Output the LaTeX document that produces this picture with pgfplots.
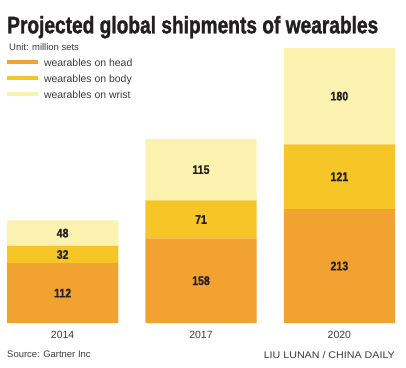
\documentclass[border=0pt]{standalone}
\usepackage{pgfplots}
\pgfplotsset{compat=1.18}
\usepackage{pgfplotstable}
\usepackage{fontspec}
\setmainfont{Liberation Sans}
\newfontface\heavy{Liberation Sans Bold}[FakeBold=1.6]
\newfontface\numb{Liberation Sans Bold}[FakeBold=0.8]
\definecolor{headc}{HTML}{F2A230}
\definecolor{bodyc}{HTML}{F6C627}
\definecolor{wristc}{HTML}{FAF2AE}
\definecolor{txt}{HTML}{231F20}
\definecolor{txt2}{HTML}{3A3A3A}

\pgfplotstableread{
x head body wrist
0 112 32 48
1 158 71 115
2 213 121 180
}\wear

\begin{document}
\begin{tikzpicture}
\path[use as bounding box] (0,0) rectangle (406bp,-368bp);
\begin{axis}[
  at={(7bp,-323bp)}, anchor=south west,
  scale only axis, width=388bp, height=275bp,
  ybar stacked, bar width=0.804,
  xmin=-0.402, xmax=2.402, ymin=0, ymax=514,
  enlargelimits=false,
  axis x line=bottom, axis y line=none,
  axis line style={draw=none,-},
  xtick={0,1,2}, xticklabels={2014,2017,2020},
  ytick=\empty,
  major tick length=0pt,
  /pgf/number format/assume math mode=true,
  xticklabel style={font=\fontsize{10.5}{12}\selectfont, text=txt2, anchor=base, yshift=-15.3bp},
  point meta=explicit,
  nodes near coords={\scalebox{0.85}[1]{\pgfmathprintnumber{\pgfplotspointmeta}}},
  every node near coord/.append style={font=\fontsize{12.5}{13}\numb, text=txt, anchor=center},
  legend style={at={(0,0.9651)}, anchor=north west, draw=none, fill=none, inner sep=0pt, outer sep=0pt, row sep=7bp, column sep=6bp, font=\fontsize{10.5}{12}\selectfont, text=txt2, nodes={inner sep=0pt, text height=8.4bp, text depth=0.6bp}},
  legend cell align=left,
  legend image code/.code={\fill[#1] (0bp,-2.3bp) rectangle (31bp,2.3bp);},
]
\addplot[fill=headc, draw=none] table[x=x,y=head,meta=head]{\wear};
\addplot[fill=bodyc, draw=none] table[x=x,y=body,meta=body]{\wear};
\addplot[fill=wristc, draw=none] table[x=x,y=wrist,meta=wrist]{\wear};
\legend{wearables on head, wearables on body, wearables on wrist}
\end{axis}
\node[anchor=base west, inner sep=0pt, text=txt] at (7bp,-33.3bp) {\resizebox{371bp}{\height}{\fontsize{24}{24}\heavy Projected global shipments of wearables}};
\node[anchor=base west, inner sep=0pt, text=txt2, font=\fontsize{9.5}{10}\selectfont] at (9bp,-50.7bp) {Unit: million sets};
\node[anchor=base west, inner sep=0pt, text=txt2, font=\fontsize{9.5}{10}\selectfont] at (7bp,-357.3bp) {Source: Gartner Inc};
\node[anchor=base east, inner sep=0pt, text=txt2] at (395bp,-358bp) {\resizebox{131bp}{\height}{\fontsize{9.7}{10}\selectfont LIU LUNAN / CHINA DAILY}};
\end{tikzpicture}
\end{document}
